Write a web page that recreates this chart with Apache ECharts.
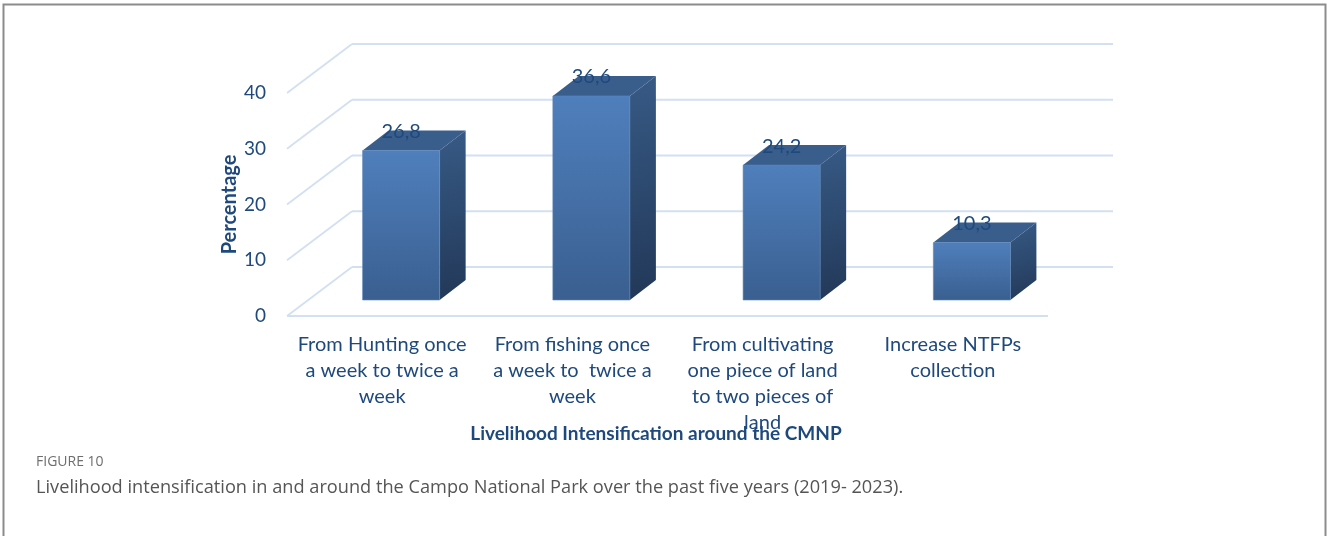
<!DOCTYPE html>
<html>
<head>
<meta charset="utf-8">
<script src="https://cdn.jsdelivr.net/npm/echarts@6/dist/echarts.min.js"></script>
<style>
  html, body { margin: 0; padding: 0; background: #ffffff; }
  #chart { width: 1327px; height: 536px; }
</style>
</head>
<body>
<div id="chart"></div>
<script>
// Categories (axis labels, wrapped as printed) and their percentages
const categories = [
  'From Hunting once\na week to twice a\nweek',
  'From fishing once\na week to  twice a\nweek',
  'From cultivating\none piece of land\nto two pieces of\nland',
  'Increase NTFPs\ncollection'
];
const percentages = [26.8, 36.6, 24.2, 10.3];
const yTicks = [0, 10, 20, 30, 40];

const TEXT = '#1F497D';
const FONT = 'Lato, "Open Sans", sans-serif';
// Pseudo-3D offsets: back wall, bar front face and bar depth
const WALL = { dx: 65, dy: -49 };
const BAR_FRONT = { dx: 19, dy: -16 };
const BAR_DEPTH = { dx: 26, dy: -20 };

const chart = echarts.init(document.getElementById('chart'));

// Wall and floor grid lines, one per y tick
function wallItem(params, api) {
  const cs = params.coordSys;
  const v = api.value(1);
  const y = api.coord([0, v])[1];
  const x0 = cs.x, x1 = cs.x + cs.width;
  const style = { stroke: '#D3E0F1', lineWidth: 1.8, fill: null };
  const children = [
    { type: 'line', shape: { x1: x0, y1: y, x2: x0 + WALL.dx, y2: y + WALL.dy }, style },
    { type: 'line', shape: { x1: x0 + WALL.dx, y1: y + WALL.dy, x2: x1 + WALL.dx, y2: y + WALL.dy }, style }
  ];
  if (v === 0) {
    children.push({ type: 'line', shape: { x1: x0, y1: y, x2: x1, y2: y }, style });
  }
  return { type: 'group', children };
}

const frontGrad = new echarts.graphic.LinearGradient(0, 0, 0, 1, [
  { offset: 0, color: '#4F7FBC' },
  { offset: 1, color: '#3A5F90' }
]);
const sideGrad = new echarts.graphic.LinearGradient(0, 0, 1, 1, [
  { offset: 0, color: '#375A85' },
  { offset: 1, color: '#223858' }
]);

// 3D-looking bar: side face, top face, front face and the value label
function barItem(params, api) {
  const i = api.value(0), v = api.value(1);
  const base = api.coord([i, 0]);
  const top = api.coord([i, v]);
  const bw = api.size([1, 0])[0] * 0.405;
  const xl = base[0] - bw / 2 + BAR_FRONT.dx, xr = xl + bw;
  const yb = base[1] + BAR_FRONT.dy, yt = top[1] + BAR_FRONT.dy;
  const dx = BAR_DEPTH.dx, dy = BAR_DEPTH.dy;
  return {
    type: 'group',
    children: [
      { type: 'polygon', shape: { points: [[xr, yt], [xr + dx, yt + dy], [xr + dx, yb + dy], [xr, yb]] },
        style: { fill: sideGrad } },
      { type: 'polygon', shape: { points: [[xl, yt], [xl + dx, yt + dy], [xr + dx, yt + dy], [xr, yt]] },
        style: { fill: '#3A5E8C' } },
      { type: 'rect', shape: { x: xl, y: yt, width: bw, height: yb - yt },
        style: { fill: frontGrad, stroke: '#5A86BE', lineWidth: 0.6 } },
      { type: 'text', z2: 10,
        style: { text: String(v).replace('.', ','), x: (xl + xr) / 2, y: yt - 19,
                 align: 'center', verticalAlign: 'middle', fill: TEXT,
                 font: '20px ' + FONT } }
    ]
  };
}

chart.setOption({
  animation: false,
  backgroundColor: '#ffffff',
  grid: { left: 287, right: 279, top: 93, bottom: 220, outerBoundsMode: 'none' },
  xAxis: {
    type: 'category',
    data: categories,
    axisLine: { show: false },
    axisTick: { show: false },
    splitLine: { show: false },
    axisLabel: { interval: 0, color: TEXT, fontSize: 20, lineHeight: 26, margin: 16, fontFamily: FONT },
    name: 'Livelihood Intensification around the CMNP',
    nameLocation: 'middle',
    nameGap: 108,
    nameMoveOverlap: false,
    nameTextStyle: { color: TEXT, fontSize: 19, fontWeight: 'bold', fontFamily: FONT, padding: [0, 23, 0, 0] }
  },
  yAxis: {
    type: 'value',
    min: 0, max: 40, interval: 10,
    axisLine: { show: false },
    axisTick: { show: false },
    splitLine: { show: false },
    axisLabel: { color: TEXT, fontSize: 19, margin: 21, fontFamily: FONT },
    name: 'Percentage',
    nameLocation: 'middle',
    nameGap: 47,
    nameMoveOverlap: false,
    nameTextStyle: { color: TEXT, fontSize: 20, fontWeight: 'bold', fontFamily: FONT }
  },
  series: [
    { type: 'custom', renderItem: wallItem, z: 1, silent: true,
      data: yTicks.map(v => [0, v]) },
    { type: 'custom', renderItem: barItem, z: 2,
      data: percentages.map((v, i) => [i, v]) }
  ],
  graphic: [
    { type: 'rect', z: 100, silent: true,
      shape: { x: 3.5, y: 4.5, width: 1322, height: 600 },
      style: { fill: null, stroke: '#8C8C8C', lineWidth: 2 } },
    { type: 'text', left: 36, top: 455,
      style: { text: 'FIGURE 10', fill: '#6E6E6E', font: '14px "Open Sans", sans-serif' } },
    { type: 'text', left: 36, top: 479,
      style: { text: 'Livelihood intensification in and around the Campo National Park over the past five years (2019- 2023).',
               fill: '#555555', font: '18.2px "Open Sans", sans-serif' } }
  ]
});
</script>
</body>
</html>
